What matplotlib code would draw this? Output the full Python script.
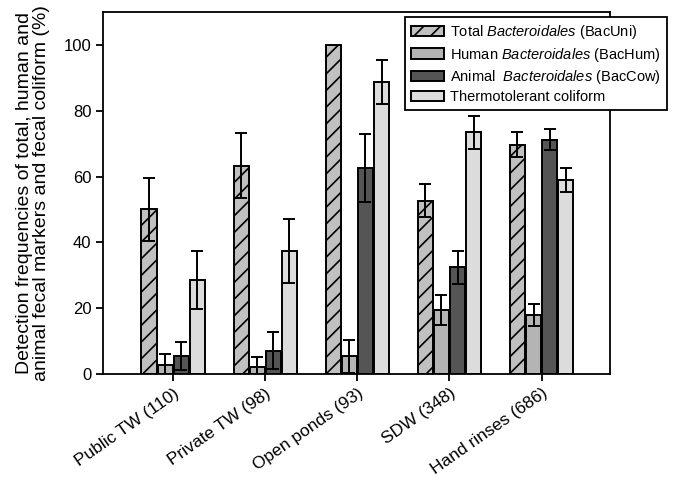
import matplotlib
matplotlib.use("Agg")
import matplotlib.pyplot as plt
import numpy as np

plt.rcParams["font.family"] = ["Liberation Sans", "DejaVu Sans"]
plt.rcParams["mathtext.fontset"] = "custom"
plt.rcParams["mathtext.rm"] = "Liberation Sans"
plt.rcParams["mathtext.it"] = "Liberation Sans:italic"
plt.rcParams["hatch.linewidth"] = 1.2

categories = ["Public TW (110)", "Private TW (98)", "Open ponds (93)", "SDW (348)", "Hand rinses (686)"]
series = ["Total $\\it{Bacteroidales}$ (BacUni)",
          "Human $\\it{Bacteroidales}$ (BacHum)",
          "Animal  $\\it{Bacteroidales}$ (BacCow)",
          "Thermotolerant coliform"]

total = [50, 63.3, 100, 52.7, 69.7]
total_err = [9.6, 9.8, 0, 5.0, 3.8]
human = [2.7, 2.0, 5.3, 19.4, 17.8]
human_err = [3.3, 3.0, 5.0, 4.5, 3.3]
animal = [5.5, 7.1, 62.6, 32.4, 71.2]
animal_err = [4.3, 5.5, 10.2, 5.0, 3.2]
thermo = [28.6, 37.4, 88.6, 73.4, 59.0]
thermo_err = [8.8, 9.7, 6.7, 5.0, 3.6]

values = [total, human, animal, thermo]
errors = [total_err, human_err, animal_err, thermo_err]
colors = ["#c0c0c0", "#b4b4b4", "#555555", "#dcdcdc"]
hatches = ["//", "", "", ""]

fig = plt.figure(figsize=(6.79, 4.8), dpi=100)
ax = fig.add_axes([0.152, 0.221, 0.746, 0.754])

x = np.arange(len(categories))
step = 0.175
width = 0.165
for i, (vals, errs) in enumerate(zip(values, errors)):
    pos = x + (i - 1.5) * step
    ax.bar(pos, vals, width, color=colors[i], edgecolor="black", linewidth=1.4,
           hatch=hatches[i], label=series[i], zorder=2)
    err = [e if e > 0 else np.nan for e in errs]
    ax.errorbar(pos, vals, yerr=err, fmt="none", ecolor="black", elinewidth=1.4,
                capsize=4, capthick=1.4, zorder=3)

ax.set_xlim(-0.76, 4.74)
ax.set_ylim(0, 110)
ax.set_yticks([0, 20, 40, 60, 80, 100])
ax.set_xticks(x)
ax.set_xticklabels(categories, rotation=35, ha="right", rotation_mode="anchor", fontsize=12.5)
ax.tick_params(axis="y", labelsize=12, width=1.3, length=5)
ax.tick_params(axis="x", width=1.3, length=5)
for s in ax.spines.values():
    s.set_linewidth(1.3)
ax.set_ylabel("Detection frequencies of total, human and\nanimal fecal markers and fecal coliform (%)",
              fontsize=14, linespacing=1.0, labelpad=10)

leg = ax.legend(loc="upper left", bbox_to_anchor=(0.596, 0.985), fontsize=10.5,
                frameon=True, fancybox=False, edgecolor="black", framealpha=1,
                handlelength=2.3, handleheight=0.7, labelspacing=0.3,
                borderaxespad=0, handletextpad=0.4)
leg.get_frame().set_linewidth(1.3)
leg.set_zorder(5)

fig.savefig("out.png", dpi=100)
